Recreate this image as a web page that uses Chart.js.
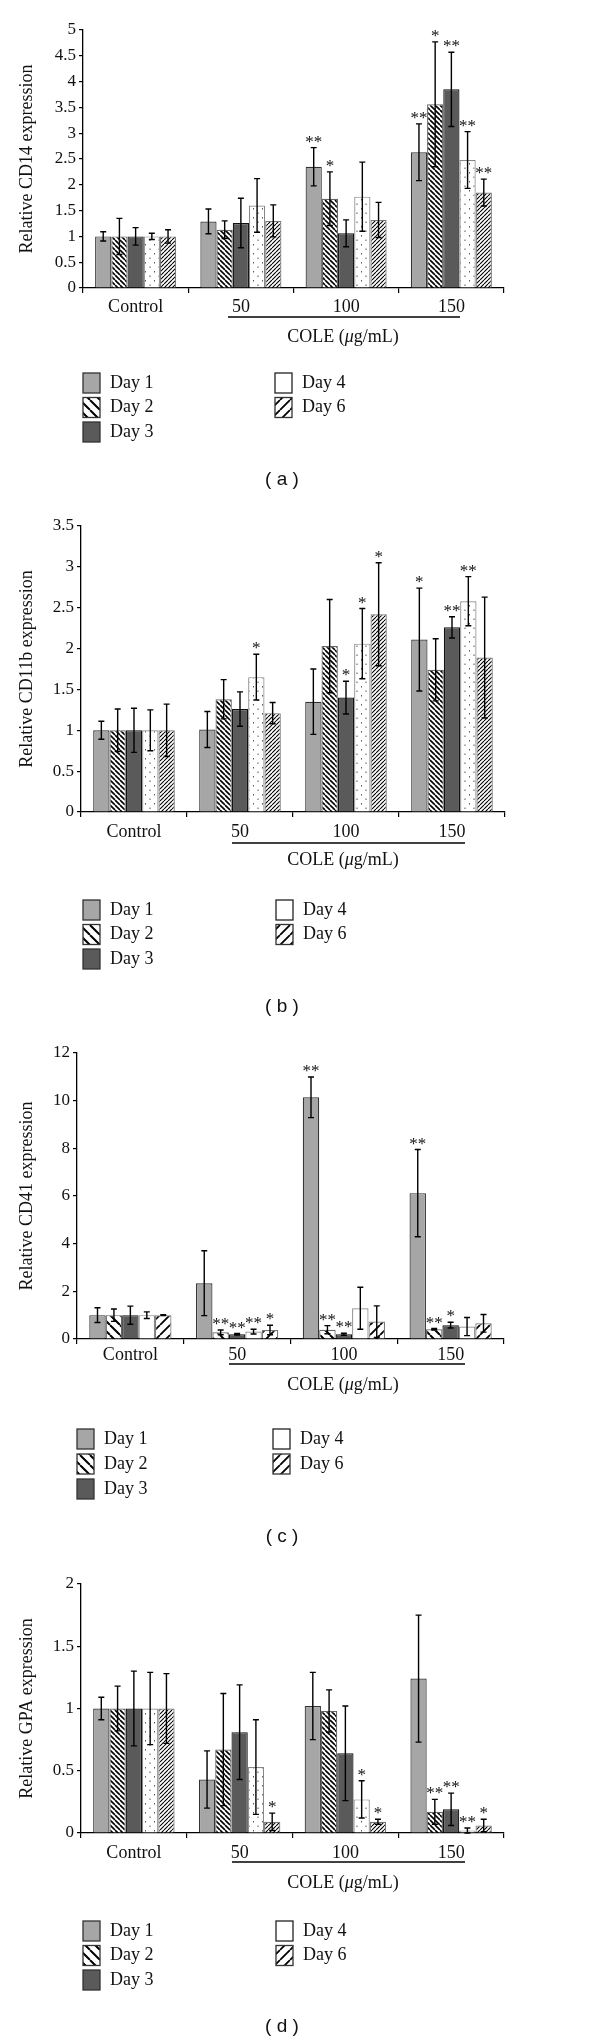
<!DOCTYPE html>
<html>
<head>
<meta charset="utf-8">
<script src="https://cdn.jsdelivr.net/npm/chart.js@4.4.1/dist/chart.umd.min.js"></script>
<style>
  body { margin: 0; background: #fff; }
  .panel { position: absolute; left: 0; width: 600px; }
  canvas { display: block; }
</style>
</head>
<body>
<div class="panel" style="top:0"><canvas id="cd14" width="600" height="505"></canvas></div>
<div class="panel" style="top:505px"><canvas id="cd11b" width="600" height="520"></canvas></div>
<div class="panel" style="top:1025px"><canvas id="cd41" width="600" height="525"></canvas></div>
<div class="panel" style="top:1550px"><canvas id="gpa" width="600" height="493"></canvas></div>
<script>
const categories = ['Control', '50', '100', '150'];
const dayLabels = ['Day 1', 'Day 2', 'Day 3', 'Day 4', 'Day 6'];

// one row per day, columns = Control, 50, 100, 150
const cd14Mean = [
    [1.00, 1.29, 2.35, 2.63],
    [1.00, 1.13, 1.73, 3.56],
    [1.00, 1.26, 1.06, 3.85],
    [1.00, 1.60, 1.77, 2.48],
    [1.00, 1.30, 1.32, 1.85]
];
const cd14Err = [
    [0.09, 0.24, 0.37, 0.55],
    [0.35, 0.17, 0.52, 1.21],
    [0.17, 0.48, 0.26, 0.72],
    [0.06, 0.52, 0.67, 0.55],
    [0.13, 0.31, 0.34, 0.26]
];
const cd14Sig = [
    ['', '', '**', '**'],
    ['', '', '*', '*'],
    ['', '', '', '**'],
    ['', '', '', '**'],
    ['', '', '', '**']
];

const cd11bMean = [
    [1.00, 1.01, 1.35, 2.11],
    [1.00, 1.38, 2.03, 1.74],
    [1.00, 1.26, 1.40, 2.26],
    [1.00, 1.65, 2.06, 2.58],
    [1.00, 1.21, 2.42, 1.89]
];
const cd11bErr = [
    [0.11, 0.22, 0.40, 0.63],
    [0.26, 0.24, 0.57, 0.38],
    [0.27, 0.21, 0.20, 0.13],
    [0.25, 0.28, 0.43, 0.30],
    [0.32, 0.13, 0.63, 0.74]
];
const cd11bSig = [
    ['', '', '', '*'],
    ['', '', '', ''],
    ['', '', '*', '**'],
    ['', '*', '*', '**'],
    ['', '', '*', '']
];

const cd41Mean = [
    [1.00, 2.34, 10.14, 6.12],
    [1.00, 0.28, 0.39, 0.41],
    [1.00, 0.20, 0.20, 0.58],
    [1.00, 0.31, 1.29, 0.52],
    [1.00, 0.38, 0.73, 0.66]
];
const cd41Err = [
    [0.31, 1.36, 0.85, 1.83],
    [0.26, 0.10, 0.17, 0.03],
    [0.38, 0.03, 0.04, 0.12],
    [0.14, 0.10, 0.88, 0.38],
    [0.02, 0.20, 0.66, 0.37]
];
const cd41Sig = [
    ['', '', '**', '**'],
    ['', '**', '**', '**'],
    ['', '**', '**', '*'],
    ['', '**', '', ''],
    ['', '*', '', '']
];

const gpaMean = [
    [1.00, 0.43, 1.02, 1.24],
    [1.00, 0.67, 0.98, 0.17],
    [1.00, 0.81, 0.64, 0.19],
    [1.00, 0.53, 0.27, 0.02],
    [1.00, 0.09, 0.09, 0.06]
];
const gpaErr = [
    [0.09, 0.23, 0.27, 0.51],
    [0.18, 0.45, 0.17, 0.10],
    [0.30, 0.38, 0.38, 0.13],
    [0.29, 0.38, 0.15, 0.02],
    [0.28, 0.07, 0.02, 0.05]
];
const gpaSig = [
    ['', '', '', ''],
    ['', '', '', '**'],
    ['', '', '', '**'],
    ['', '', '*', '**'],
    ['', '*', '*', '*']
];

const SERIF = "'Liberation Serif', 'DejaVu Serif', serif";
Chart.defaults.font.family = SERIF;
Chart.defaults.color = '#111';

// <-- fill patterns -->
function tile(w, h, paint) {
    const c = document.createElement('canvas');
    c.width = w; c.height = h;
    const g = c.getContext('2d');
    g.fillStyle = '#fff';
    g.fillRect(0, 0, w, h);
    paint(g);
    return g.createPattern(c, 'repeat');
}
function hatch(back, s, lw) {
    return tile(s, s, g => {
        g.strokeStyle = '#000';
        g.lineWidth = lw;
        g.beginPath();
        for (let k = -1; k <= 1; k++) {
            if (back) { g.moveTo(k * s, 0); g.lineTo(k * s + s, s); }
            else { g.moveTo(k * s, s); g.lineTo(k * s + s, 0); }
        }
        g.stroke();
    });
}
function dots(s) {
    return tile(s, s, g => {
        g.fillStyle = '#555';
        g.fillRect(1, 1, 1, 1.5);
        g.fillRect(s / 2 + 1, s / 2 + 1, 1, 1.5);
    });
}

function fills(coarse) {
    return [
        '#a6a6a6',
        coarse ? hatch(true, 10, 2) : hatch(true, 5, 1.6),
        '#5a5a5a',
        coarse ? '#fff' : dots(9),
        coarse ? hatch(false, 10, 1.8) : hatch(false, 4, 1.1)
    ];
}
const legendFills = fills(true);
const borders = ['#333', '#666', '#111', '#888', '#777'];

// <-- annotations: error bars, stars, dose line, legend, tag -->
function extrasPlugin(p) {
    return {
        id: 'extras',
        afterDatasetsDraw(chart) {
            const ctx = chart.ctx;
            const ys = chart.scales.y;
            const area = chart.chartArea;
            ctx.save();
            ctx.strokeStyle = '#000';
            ctx.lineWidth = 1.4;
            ctx.fillStyle = '#111';
            ctx.font = '17px ' + SERIF;
            ctx.textAlign = 'center';
            ctx.textBaseline = 'alphabetic';
            p.mean.forEach((row, i) => {
                const meta = chart.getDatasetMeta(i);
                row.forEach((m, j) => {
                    const bx = meta.data[j].x;
                    const e = p.err[i][j];
                    const top = ys.getPixelForValue(m + e);
                    const bot = ys.getPixelForValue(Math.max(m - e, 0));
                    ctx.beginPath();
                    ctx.moveTo(bx, top); ctx.lineTo(bx, bot);
                    ctx.moveTo(bx - 3, top); ctx.lineTo(bx + 3, top);
                    ctx.moveTo(bx - 3, bot); ctx.lineTo(bx + 3, bot);
                    ctx.stroke();
                    const s = p.sig[i][j];
                    if (s) ctx.fillText(s, bx, Math.min(top, meta.data[j].y) - 1);
                });
            });

            const b = area.bottom;
            // dose underline and axis caption
            ctx.lineWidth = 1.3;
            ctx.beginPath();
            ctx.moveTo(p.line[0], b + p.under);
            ctx.lineTo(p.line[1], b + p.under);
            ctx.stroke();

            ctx.textBaseline = 'middle';
            ctx.textAlign = 'left';
            const parts = [['COLE (', ''], ['\u03bc', 'italic '], ['g/mL)', '']];
            let w = 0;
            parts.forEach(pt => { ctx.font = pt[1] + '18px ' + SERIF; w += ctx.measureText(pt[0]).width; });
            let cx = 343 - w / 2;
            parts.forEach(pt => {
                ctx.font = pt[1] + '18px ' + SERIF;
                ctx.fillText(pt[0], cx, b + p.cole);
                cx += ctx.measureText(pt[0]).width;
            });

            // legend
            ctx.font = '18px ' + SERIF;
            const slots = [[0, 0], [0, 1], [0, 2], [1, 0], [1, 1]];
            chart.data.datasets.forEach((ds, i) => {
                const [col, r] = slots[i];
                const lx = p.legX[col];
                const ly = b + p.leg + r * p.legGap;
                ctx.fillStyle = legendFills[i];
                ctx.fillRect(lx, ly, 17, 20);
                ctx.strokeStyle = i === 3 ? '#222' : '#333';
                ctx.lineWidth = 1.3;
                ctx.strokeRect(lx, ly, 17, 20);
                ctx.fillStyle = '#111';
                ctx.fillText(ds.label, lx + 27, ly + 10);
            });

            // panel tag
            ctx.font = "19px 'Liberation Sans', 'DejaVu Sans', sans-serif";
            ctx.textAlign = 'center';
            ctx.fillText('( ' + p.tag + ' )', 282, b + p.tagY);
            ctx.restore();
        }
    };
}

// <-- one grouped bar chart -->
function makePanel(p) {
    const colors = fills(p.coarse);
    const canvas = document.getElementById(p.id);
    new Chart(canvas, {
        type: 'bar',
        data: {
            labels: categories,
            datasets: p.mean.map((row, i) => ({
                label: dayLabels[i],
                data: row,
                backgroundColor: colors[i],
                borderColor: borders[i],
                borderWidth: 1.2,
                categoryPercentage: 0.77,
                barPercentage: 1.0
            }))
        },
        options: {
            responsive: false,
            animation: false,
            events: [],
            layout: { padding: { left: 16, top: p.top, right: 600 - p.right, bottom: 0 } },
            plugins: { legend: { display: false }, tooltip: { enabled: false } },
            scales: {
                x: {
                    afterFit: s => { s.height = canvas.height - p.bottom; },
                    grid: { offset: true, drawOnChartArea: false, tickLength: 5, color: '#000', lineWidth: 1.2 },
                    border: { color: '#000', width: 1.3 },
                    ticks: { font: { size: 18 }, padding: p.tickPad, color: '#111' }
                },
                y: {
                    min: 0,
                    max: p.max,
                    afterFit: s => { s.width = p.left - 16; },
                    grid: { drawOnChartArea: false, tickLength: 4, color: '#000', lineWidth: 1.2 },
                    border: { color: '#000', width: 1.3 },
                    ticks: {
                        stepSize: p.step, font: { size: 17 }, padding: 3, color: '#111',
                        callback: v => String(+v.toFixed(2))
                    },
                    title: { display: true, text: p.title, font: { size: 18 }, padding: 0, color: '#111' }
                }
            }
        },
        plugins: [extrasPlugin(p)]
    });
}

makePanel({ id: 'cd14', mean: cd14Mean, err: cd14Err, sig: cd14Sig, title: 'Relative CD14 expression',
    max: 5, step: 0.5, left: 83, right: 504, top: 30, bottom: 288, tickPad: 3,
    under: 29, line: [228, 460], cole: 49, leg: 85, legGap: 24.5, legX: [83, 275], tag: 'a', tagY: 192 });
makePanel({ id: 'cd11b', mean: cd11bMean, err: cd11bErr, sig: cd11bSig, title: 'Relative CD11b expression',
    max: 3.5, step: 0.5, left: 81, right: 505, top: 21, bottom: 307, tickPad: 4,
    under: 31, line: [232, 465], cole: 48, leg: 88, legGap: 24.5, legX: [83, 276], tag: 'b', tagY: 195 });
makePanel({ id: 'cd41', mean: cd41Mean, err: cd41Err, sig: cd41Sig, title: 'Relative CD41 expression', coarse: true,
    max: 12, step: 2, left: 77, right: 504, top: 28, bottom: 314, tickPad: 0,
    under: 25, line: [229, 465], cole: 46, leg: 90, legGap: 25, legX: [77, 273], tag: 'c', tagY: 198 });
makePanel({ id: 'gpa', mean: gpaMean, err: gpaErr, sig: gpaSig, title: 'Relative GPA expression',
    max: 2, step: 0.5, left: 81, right: 504, top: 34, bottom: 283, tickPad: 4,
    under: 29, line: [232, 465], cole: 50, leg: 88, legGap: 24.5, legX: [83, 276], tag: 'd', tagY: 194 });
</script>
</body>
</html>
